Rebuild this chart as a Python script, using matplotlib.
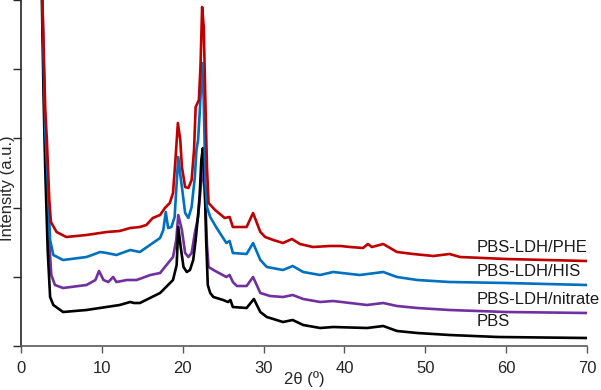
import numpy as np
import matplotlib
matplotlib.use("Agg")
import matplotlib.pyplot as plt

plt.rcParams['font.family'] = ['Liberation Sans', 'DejaVu Sans']

# 2theta positions and intensities (a.u., stacked/offset)
x_pbs = [2.55, 2.8, 3.0, 3.3, 3.6, 4.0, 5.2, 8.1, 12.2, 13.5, 14.0, 14.7, 17.2, 18.8,
         19.25, 19.45, 19.75, 20.1, 20.5, 20.9, 21.3, 21.6, 21.9, 22.1, 22.3, 22.5,
         22.7, 22.9, 23.1, 23.4, 23.8, 25.0, 25.6, 25.9, 26.2, 27.9, 28.8, 29.6, 30.4,
         32.4, 33.6, 34.9, 37.0, 38.6, 42.8, 44.8, 46.5, 49.0, 53.0, 59.0, 70.0]
y_pbs = [360, 246, 176, 96, 49, 41, 34, 36, 41, 44, 43, 43, 53, 66,
         81, 119, 99, 79, 74, 76, 86, 106, 131, 151, 186, 198,
         166, 106, 61, 53, 49, 46, 44, 46, 39, 38, 47, 34, 29,
         24, 26, 21, 18, 19, 18, 20, 15, 13, 11, 9, 8]

x_nit = [2.6, 3.0, 3.4, 3.75, 4.2, 5.2, 8.1, 9.2, 9.65, 10.2, 10.8, 11.4, 11.8, 13.1,
         14.3, 16.0, 17.2, 18.0, 18.8, 19.2, 19.45, 19.9, 20.3, 20.7, 21.1, 21.5,
         21.9, 22.2, 22.5, 22.8, 23.0, 23.2, 23.8, 25.4, 25.8, 26.2, 26.7, 27.9, 28.7,
         29.6, 30.8, 32.4, 33.6, 34.9, 37.0, 38.6, 42.8, 44.8, 46.5, 49.0, 53.0, 60.0, 70.0]
y_nit = [360, 196, 116, 71, 61, 58, 61, 66, 75, 66, 64, 69, 64, 66,
         66, 71, 73, 81, 89, 106, 131, 116, 93, 89, 93, 113,
         129, 156, 181, 146, 101, 79, 76, 69, 71, 64, 60, 60, 69,
         53, 50, 49, 51, 47, 44, 45, 41, 43, 40, 38, 36, 34, 33]

x_his = [2.6, 3.0, 3.3, 3.6, 4.0, 5.2, 8.1, 9.8, 10.6, 11.8, 13.5, 14.7, 16.3, 17.2,
         17.6, 17.9, 18.2, 18.6, 19.0, 19.2, 19.45, 19.7, 19.9, 20.3, 20.7, 21.1,
         21.5, 21.7, 21.9, 22.1, 22.4, 22.6, 22.8, 23.0, 23.4, 24.2, 25.4, 25.8,
         26.2, 27.9, 28.7, 29.6, 30.4, 32.4, 33.6, 34.9, 37.0, 38.6, 41.9, 44.8,
         46.5, 49.0, 53.0, 60.0, 70.0]
y_his = [360, 216, 166, 106, 91, 86, 89, 94, 93, 91, 96, 94, 103, 108,
         116, 134, 118, 119, 129, 156, 189, 171, 159, 133, 128, 139,
         169, 196, 206, 233, 283, 246, 163, 139, 129, 118, 103, 105,
         93, 92, 103, 86, 79, 76, 80, 74, 71, 74, 71, 74,
         69, 66, 64, 63, 61]

x_phe = [2.6, 3.0, 3.2, 3.5, 3.7, 4.4, 5.6, 8.1, 10.6, 12.2, 13.5, 14.7, 15.5, 16.3,
         17.2, 17.8, 18.4, 18.8, 19.1, 19.4, 19.7, 19.9, 20.3, 20.7, 21.1, 21.4,
         21.6, 22.0, 22.2, 22.4, 22.6, 22.8, 23.0, 23.2, 24.0, 25.2, 25.8, 26.2,
         27.9, 28.7, 29.6, 30.2, 31.2, 32.4, 33.5, 34.5, 36.1, 38.2, 39.5, 40.7,
         42.3, 42.9, 43.4, 44.8, 46.5, 48.5, 51.0, 53.0, 54.3, 60.0, 70.0]
y_phe = [360, 236, 206, 146, 124, 114, 109, 111, 114, 115, 118, 119, 121, 128,
         131, 138, 143, 153, 186, 223, 206, 179, 159, 158, 166, 196,
         239, 246, 280, 339, 319, 246, 179, 143, 136, 128, 129, 119,
         119, 133, 114, 109, 106, 103, 107, 102, 99, 100, 100, 99,
         98, 102, 99, 102, 94, 92, 90, 92, 89, 87, 85]

labels = ['PBS-LDH/PHE', 'PBS-LDH/HIS', 'PBS-LDH/nitrate', 'PBS']
label_y = [99, 74, 46, 24]
label_x = 56.3

fig = plt.figure(figsize=(6.01, 3.90), dpi=100)
ax = fig.add_axes([21 / 601, 44 / 390, 566 / 601, 346 / 390])

ax.plot(x_nit, y_nit, color='#7030A0', lw=1.9, zorder=1)
ax.plot(x_pbs, y_pbs, color='#000000', lw=1.9, zorder=2)
ax.plot(x_his, y_his, color='#0070C0', lw=1.9, zorder=3)
ax.plot(x_phe, y_phe, color='#C00000', lw=1.9, zorder=4)

for lab, ly in zip(labels, label_y):
    ax.text(label_x, ly, lab, fontsize=12, color='#1a1a1a', va='center', ha='left')

ax.set_xlim(0, 70)
ax.set_ylim(0, 346)
ax.set_xticks(np.arange(0, 71, 10))
ax.set_yticks(np.arange(0, 347, 69.2))
ax.set_yticklabels([])
ax.tick_params(axis='x', direction='out', length=5, width=1, colors='#595959',
               labelcolor='#262626', labelsize=12, pad=6)
ax.tick_params(axis='y', direction='out', length=6, width=1, colors='#262626')
ax.spines['top'].set_visible(False)
ax.spines['right'].set_visible(False)
ax.spines['bottom'].set_color('#595959')
ax.spines['left'].set_color('#262626')
ax.spines['bottom'].set_linewidth(1.2)
ax.spines['left'].set_linewidth(1.2)

ax.set_xlabel('2θ (º)', fontsize=12, color='#262626')
ax.xaxis.set_label_coords(0.5, -0.072)
fig.text(8 / 601, 1 - 188 / 390, 'Intensity (a.u.)', rotation=90, fontsize=12,
         color='#262626', ha='center', va='center')

fig.savefig('out.png', dpi=100)
